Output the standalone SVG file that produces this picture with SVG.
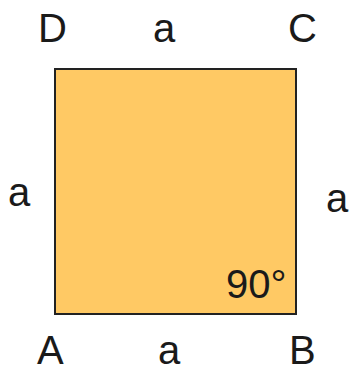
<svg xmlns="http://www.w3.org/2000/svg" width="354" height="372" viewBox="0 0 354 372">
<style>
.t{font-family:"Liberation Sans",Arial,sans-serif;font-size:40px;fill:#1a1a1a}
.sq{fill:#FFC964;stroke:#222;stroke-width:2}
</style>
<rect width="354" height="372" fill="#fff"/>
<g id="square">
<rect class="sq" x="55" y="69" width="241" height="245"/>
<text class="t" x="226" y="298">90°</text>
</g>
<g id="labels">
<text class="t" x="38" y="42">D</text>
<text class="t" x="288" y="42">C</text>
<text class="t" x="37" y="364">A</text>
<text class="t" x="289" y="364">B</text>
<text class="t" x="153" y="42">a</text>
<text class="t" x="158" y="364">a</text>
<text class="t" x="8" y="206">a</text>
<text class="t" x="326" y="212">a</text>
</g>
</svg>
